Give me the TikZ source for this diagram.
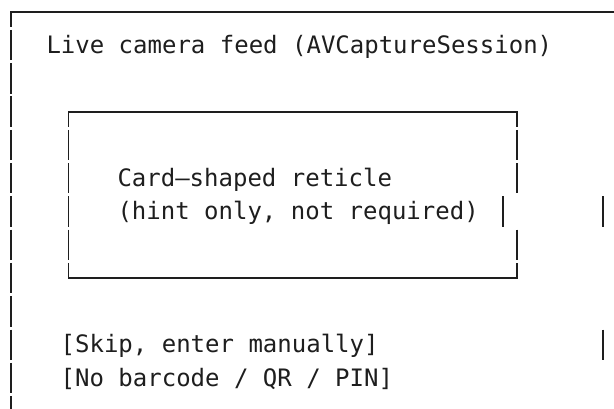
\documentclass[tikz,border=0pt]{standalone}
\usepackage{fontspec}
\newfontfamily\asciimono{DejaVu Sans Mono}
\definecolor{ink}{HTML}{1E1E1E}
\begin{document}
\begin{tikzpicture}[x=1pt,y=-1pt,
  seg/.style={draw=ink, line width=1.7pt, line cap=butt, line join=miter},
  txt/.style={anchor=base west, inner sep=0pt, text=ink,
    font=\asciimono\fontsize{24}{28}\selectfont}]
\useasboundingbox[fill=white] (0,0) rectangle (614,409);
\clip (0,0) rectangle (614,409);
% row centre: 11.8 + 33.3 k ; half segment 15.2
% outer frame
\draw[seg] (11,27) -- (11,11.8) -- (614,11.8);
\foreach \k in {1,...,12}
  \draw[seg] (11,{11.8+33.3*\k-15.2}) -- (11,{11.8+33.3*\k+15.2});
% inner reticle box
\draw[seg] (68.5,126.9) -- (68.5,111.7) -- (516.7,111.7) -- (516.7,126.9);
\draw[seg] (68.5,263.0) -- (68.5,278.2) -- (516.7,278.2) -- (516.7,263.0);
\foreach \k in {4,...,7}
  \draw[seg] (68.5,{11.8+33.3*\k-15.2}) -- (68.5,{11.8+33.3*\k+15.2});
\foreach \k in {4,5,7}
  \draw[seg] (516.7,{11.8+33.3*\k-15.2}) -- (516.7,{11.8+33.3*\k+15.2});
% stray bars
\draw[seg] (502.7,{11.8+33.3*6-15.2}) -- (502.7,{11.8+33.3*6+15.2});
\draw[seg] (603,{11.8+33.3*6-15.2}) -- (603,{11.8+33.3*6+15.2});
\draw[seg] (603,{11.8+33.3*10-15.2}) -- (603,{11.8+33.3*10+15.2});
% texts
\node[txt] (feed) at (46.3,53.1) {Live camera feed (AVCaptureSession)};
\node[txt] (reticle) at (117.3,186.3) {Card–shaped reticle};
\node[txt] (hint) at (117.3,219.6) {(hint only, not required)};
\node[txt] (skip) at (60.5,352.8) {[Skip, enter manually]};
\node[txt] (nobar) at (60.5,386.1) {[No barcode / QR / PIN]};
\end{tikzpicture}
\end{document}
